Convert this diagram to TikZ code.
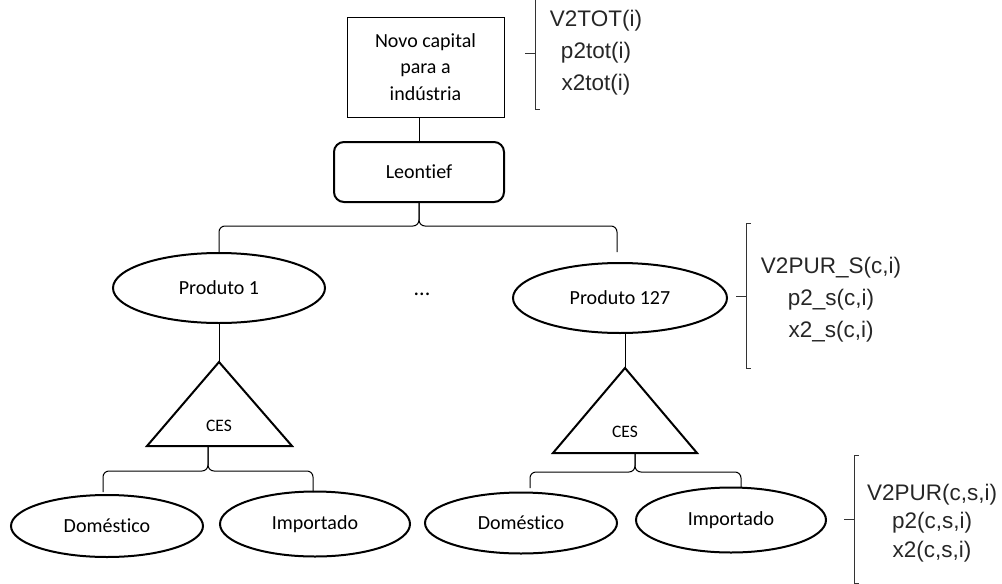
\documentclass[tikz,border=0pt]{standalone}
\usepackage{fontspec}
\setmainfont{Carlito}[Ligatures=NoCommon]
\newfontfamily\arialf{Liberation Sans}
\usetikzlibrary{shapes.geometric}
\begin{document}
\begin{tikzpicture}[x=1pt,y=-1pt,
  every node/.style={font=\fontsize{20}{26.5}\selectfont},
  thinbox/.style={draw, line width=1pt, minimum width=157pt, minimum height=100pt, align=center, inner sep=0pt},
  roundbox/.style={draw, line width=2pt, rounded corners=10pt, minimum width=170pt, minimum height=60pt, inner sep=0pt},
  oval/.style={draw, ellipse, line width=2pt, inner sep=0pt},
  tri/.style={line width=2pt, line join=miter},
  conn/.style={line width=1pt},
  brace/.style={line width=1pt, rounded corners=6pt},
  brk/.style={line width=1pt, draw=black!80},
  var/.style={font=\arialf\fontsize{22.5}{32}\selectfont, align=center, inner sep=0pt, text=black!85},
  small/.style={font=\fontsize{17.5}{20}\selectfont},
]
\useasboundingbox (0,0) rectangle (1002,584);

% top
\node[thinbox] (cap) at (425.5,67) {Novo capital\\para a\\indústria};
\node[roundbox] (leo) at (419,172) {Leontief};
\draw[conn] (cap.south -| leo.north) -- (leo.north);

% products
\node[oval, minimum width=212pt, minimum height=70pt] (p1) at (219,288) {Produto 1};
\node[oval, minimum width=214pt, minimum height=70pt] (p127) at (620,298) {Produto 127};
\node[font=\fontsize{22}{26}\selectfont] (dots) at (422,294) {...};
\coordinate (a127) at (617,252);
\draw[brace] (leo.south) -- (leo.south |- 0,226) -- (p1.north |- 0,226) -- (p1.north);
\draw[brace] (leo.south) -- (leo.south |- 0,226) -- (a127 |- 0,226) -- (a127);

% CES triangles
\coordinate (t1a) at (219,362);
\coordinate (t1l) at (147,446);
\coordinate (t1r) at (292,446);
\draw[tri] (t1a) -- (t1r) -- (t1l) -- cycle;
\node[small] (ces1) at (219,426) {CES};
\draw[conn] (p1.south) -- (t1a);

\coordinate (t2a) at (625,368);
\coordinate (t2l) at (553,453);
\coordinate (t2r) at (697,453);
\draw[tri] (t2a) -- (t2r) -- (t2l) -- cycle;
\node[small] (ces2) at (625,432) {CES};
\draw[conn] (t2a |- p127.south) -- (t2a);

% bottom level
\node[oval, minimum width=192pt, minimum height=62pt] (d1) at (107,526) {Doméstico};
\node[oval, minimum width=190pt, minimum height=65pt] (i1) at (315,524) {Importado};
\node[oval, minimum width=192pt, minimum height=61pt] (d2) at (521,523) {Doméstico};
\node[oval, minimum width=190pt, minimum height=65pt] (i2) at (731,520) {Importado};

\coordinate (b1t) at (208,446);
\coordinate (b1l) at (103,492);
\coordinate (b1r) at (313,492);
\draw[brace] (b1t) -- (b1t |- 0,471) -- (b1l |- 0,471) -- (b1l);
\draw[brace] (b1t) -- (b1t |- 0,471) -- (b1r |- 0,471) -- (b1r);

\coordinate (b2t) at (635,453);
\coordinate (b2l) at (530,488);
\coordinate (b2r) at (741,487);
\draw[brace] (b2t) -- (b2t |- 0,472) -- (b2l |- 0,472) -- (b2l);
\draw[brace] (b2t) -- (b2t |- 0,472) -- (b2r |- 0,472) -- (b2r);

% variable brackets
\draw[brk] (540,-2) -- (535,-2) -- (535,109) -- (540,109);
\draw[brk] (525,53) -- (535,53);
\node[var] (v1) at (596,53) {V2TOT(i)\\p2tot(i)\\x2tot(i)};

\draw[brk] (751,223) -- (746,223) -- (746,368) -- (751,368);
\draw[brk] (736,296) -- (746,296);
\node[var] (v2) at (831,300) {V2PUR\_S(c,i)\\p2\_s(c,i)\\x2\_s(c,i)};

\draw[brk] (859,455) -- (854,455) -- (854,583) -- (859,583);
\draw[brk] (844,519) -- (854,519);
\node[var, font=\arialf\fontsize{22.5}{28.5}\selectfont] (v3) at (932,523) {V2PUR(c,s,i)\\p2(c,s,i)\\x2(c,s,i)};
\end{tikzpicture}
\end{document}
